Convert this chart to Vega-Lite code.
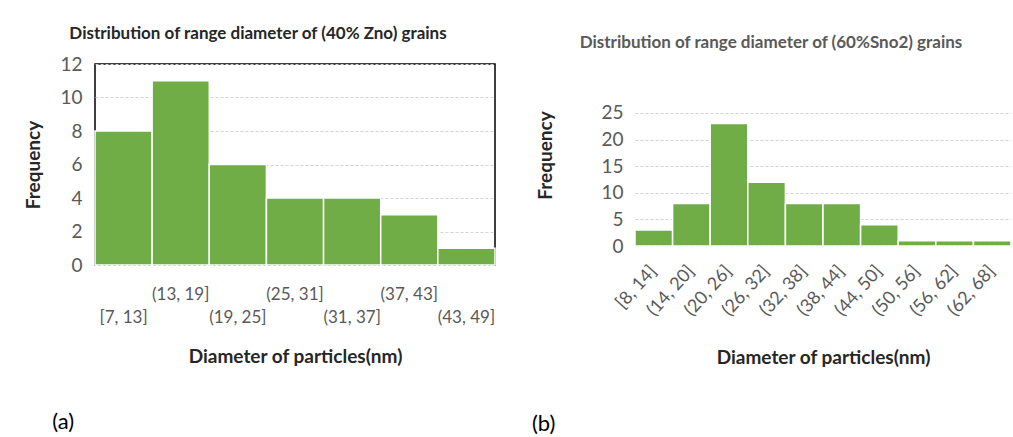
{
  "$schema": "https://vega.github.io/schema/vega-lite/v6.json",
  "padding": {"left": 24, "top": 24, "right": 0, "bottom": 0},
  "background": "white",
  "spacing": 34,
  "config": {
    "font": "Lato",
    "view": {"stroke": null},
    "axis": {
      "labelColor": "#595959",
      "titleColor": "#262626",
      "titleFontWeight": "bold",
      "titleFontSize": 19,
      "ticks": false,
      "gridColor": "#d4d4d4",
      "gridDash": [3, 2],
      "gridWidth": 1
    }
  },
  "hconcat": [
    {
      "title": {"text": "(a)", "orient": "bottom", "anchor": "start", "fontSize": 22, "fontWeight": "normal", "color": "black", "offset": 45, "dx": 28},
      "vconcat": [
        {
          "width": 400,
          "height": 201,
          "view": {"stroke": "black", "strokeWidth": 1.5},
          "title": {"text": "Distribution of range diameter of (40% Zno) grains", "fontSize": 17, "fontWeight": "bold", "color": "#262626", "offset": 12, "dx": -37},
          "data": {"values": [
            {"range": "[7, 13]", "frequency": 8},
            {"range": "(13, 19]", "frequency": 11},
            {"range": "(19, 25]", "frequency": 6},
            {"range": "(25, 31]", "frequency": 4},
            {"range": "(31, 37]", "frequency": 4},
            {"range": "(37, 43]", "frequency": 3},
            {"range": "(43, 49]", "frequency": 1}
          ]},
          "mark": {"type": "bar", "color": "#70AD47", "stroke": "white", "strokeWidth": 1.5},
          "encoding": {
            "x": {
              "field": "range", "type": "ordinal", "sort": null,
              "scale": {"paddingInner": 0, "paddingOuter": 0},
              "axis": {
                "title": "Diameter of particles(nm)",
                "labelAngle": 0, "domain": false, "labelPadding": 21,
                "labelFontSize": 17, "labelBaseline": "top", "labelLineHeight": 23,
                "labelOverlap": false, "labelBound": false,
                "labelExpr": "indexof(['(13, 19]','(25, 31]','(37, 43]'], datum.value) >= 0 ? datum.label : ['', datum.label]",
                "titlePadding": 22
              }
            },
            "y": {
              "field": "frequency", "type": "quantitative",
              "scale": {"domain": [0, 12]},
              "axis": {
                "title": "Frequency", "values": [0, 2, 4, 6, 8, 10, 12],
                "domain": false, "labelFontSize": 19, "labelPadding": 13, "titlePadding": 16
              }
            }
          }
        }
      ]
    },
    {
      "title": {"text": "(b)", "orient": "bottom", "anchor": "start", "fontSize": 22, "fontWeight": "normal", "color": "black", "offset": 47, "dx": -5},
      "vconcat": [
        {
          "width": 376,
          "height": 182,
          "title": {"text": "Distribution of range diameter of (60%Sno2) grains", "fontSize": 17, "fontWeight": "bold", "color": "#595959", "offset": 12, "dx": -52},
          "data": {"values": [
            {"range": "[8, 14]", "frequency": 3},
            {"range": "(14, 20]", "frequency": 8},
            {"range": "(20, 26]", "frequency": 23},
            {"range": "(26, 32]", "frequency": 12},
            {"range": "(32, 38]", "frequency": 8},
            {"range": "(38, 44]", "frequency": 8},
            {"range": "(44, 50]", "frequency": 4},
            {"range": "(50, 56]", "frequency": 1},
            {"range": "(56, 62]", "frequency": 1},
            {"range": "(62, 68]", "frequency": 1}
          ]},
          "mark": {"type": "bar", "color": "#70AD47", "stroke": "white", "strokeWidth": 1.5},
          "encoding": {
            "x": {
              "field": "range", "type": "ordinal", "sort": null,
              "scale": {"paddingInner": 0, "paddingOuter": 0},
              "axis": {
                "title": "Diameter of particles(nm)",
                "labelAngle": -48, "domain": false, "labelPadding": 22,
                "labelFontSize": 18, "labelOverlap": false,
                "titlePadding": 29
              }
            },
            "y": {
              "field": "frequency", "type": "quantitative",
              "scale": {"domain": [0, 34.2], "nice": false},
              "axis": {
                "title": "Frequency", "values": [0, 5, 10, 15, 20, 25],
                "domain": false, "labelFontSize": 19, "labelPadding": 12, "titlePadding": 45
              }
            }
          }
        }
      ]
    }
  ]
}
